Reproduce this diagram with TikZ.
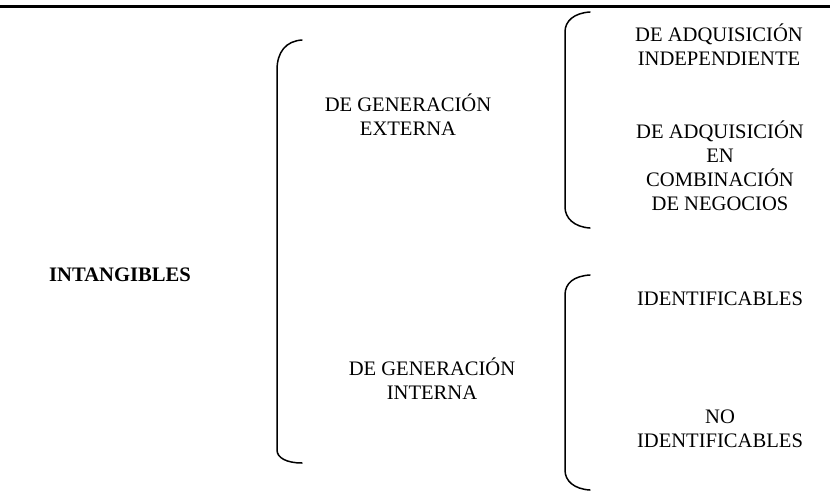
\documentclass[tikz,border=0pt]{standalone}
\usepackage{fontspec}
\setmainfont{Liberation Serif}
\begin{document}
\begin{tikzpicture}[x=1pt,y=-1pt,
  lbl/.style={inner sep=0pt, align=center, anchor=base, font=\fontsize{20.6}{23.5}\selectfont},
  brace/.style={line width=1.5pt, line cap=round}]
\useasboundingbox (0,0) rectangle (830,493);
\coordinate (rl) at (0,6.5);
\coordinate (rr) at (830,6.5);
\draw[line width=2.2pt] (rl) -- (rr);
% braces
\draw[brace] (302,40) .. controls (286,41) and (277,52) .. (277,70) -- (277,450) .. controls (277,458) and (287,463) .. (302,463);
\draw[brace] (590,12) .. controls (574,13) and (565,21) .. (565,32) -- (565,207) .. controls (565,218) and (574,227) .. (590,228);
\draw[brace] (590,275) .. controls (574,276) and (565,283) .. (565,295) -- (565,470) .. controls (565,481) and (574,489) .. (590,490);
% labels (anchor = baseline of the last line)
\node[lbl, font=\fontsize{20.6}{23.5}\selectfont\bfseries] (int) at (120,281) {INTANGIBLES};
\node[lbl] (dge) at (408,135) {DE GENERACIÓN\\EXTERNA};
\node[lbl] (dgi) at (432,399) {DE GENERACIÓN\\INTERNA};
\node[lbl] (adq1) at (719,65) {DE ADQUISICIÓN\\INDEPENDIENTE};
\node[lbl, font=\fontsize{20.6}{24}\selectfont] (adq2) at (720,210) {DE ADQUISICIÓN\\EN\\COMBINACIÓN\\DE NEGOCIOS};
\node[lbl] (id) at (720,305) {IDENTIFICABLES};
\node[lbl] (noid) at (720,447) {NO\\IDENTIFICABLES};
\end{tikzpicture}
\end{document}
